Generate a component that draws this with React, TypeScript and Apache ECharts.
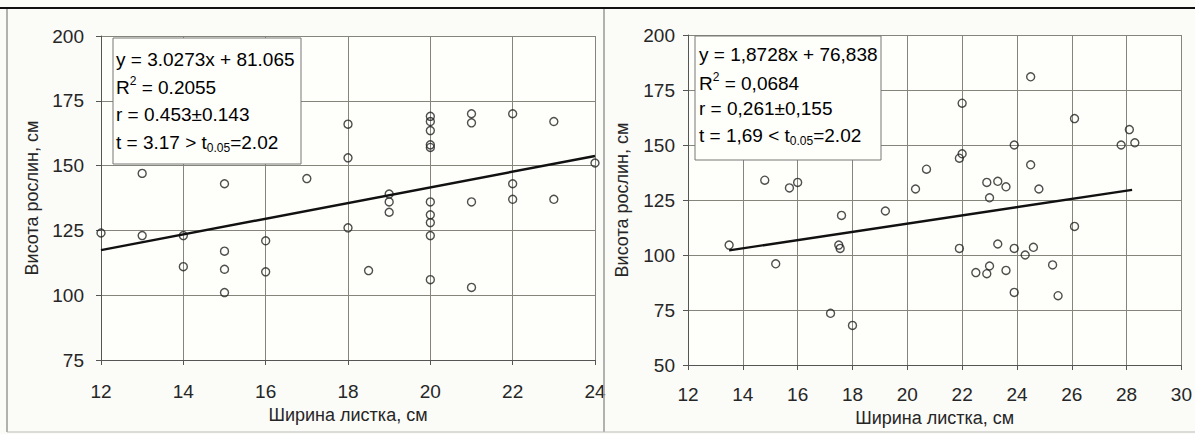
import React, { useEffect, useRef } from "react";
import * as echarts from "echarts";

// Left chart: leaf width (cm) vs plant height (cm)
const leftWidth = [12, 13, 13, 14, 14, 15, 15, 15, 15, 16, 16, 17, 18, 18, 18, 18.5, 19, 19, 19, 20, 20, 20, 20, 20, 20, 20, 20, 20, 20, 21, 21, 21, 21, 22, 22, 22, 23, 23, 24];
const leftHeight = [124, 147, 123, 123, 111, 143, 117, 110, 101, 121, 109, 145, 166, 153, 126, 109.5, 139, 136, 132, 169, 167, 163.5, 158, 157, 136, 131, 128, 123, 106, 170, 166.5, 136, 103, 170, 143, 137, 167, 137, 151];
const leftTrend = [[12, 117.4], [24, 153.7]];
const leftLegend = ["y = 3.0273x + 81.065", "R2 = 0.2055", "r = 0.453±0.143", "t = 3.17 > t0.05=2.02"];

// Right chart
const rightWidth = [13.5, 14.8, 15.2, 15.7, 16.0, 17.2, 17.6, 17.5, 17.55, 18.0, 19.2, 20.3, 20.7, 22.0, 21.9, 22.0, 21.9, 22.5, 22.9, 23.0, 22.9, 23.0, 23.3, 23.3, 23.6, 23.6, 23.9, 23.9, 23.9, 24.3, 24.5, 24.5, 24.6, 24.8, 25.3, 25.5, 26.1, 26.1, 27.8, 28.1, 28.3];
const rightHeight = [104.5, 134, 96, 130.5, 133, 73.5, 118, 104.5, 103, 68, 120, 130, 139, 169, 144, 146, 103, 92, 133, 126, 91.5, 95, 133.5, 105, 131, 93, 83, 103, 150, 100, 141, 181, 103.5, 130, 95.5, 81.5, 162, 113, 150, 157, 151];
const rightTrend = [[13.5, 102.1], [28.2, 129.6]];
const rightLegend = ["y = 1,8728x + 76,838", "R2 = 0,0684", "r = 0,261±0,155", "t = 1,69 < t0.05=2.02"];

const xTicksLeft = [12, 24, 2];
const yTicksLeft = [75, 200, 25];
const xTicksRight = [12, 30, 2];
const yTicksRight = [50, 200, 25];

const xTitle = "Ширина листка, см";
const yTitle = "Висота рослин, см";

const FONT = "Liberation Sans, Arial, sans-serif";

function pairs(xs: number[], ys: number[]) {
  return xs.map((x, i) => [x, ys[i]]);
}

export default function App() {
  const ref = useRef<HTMLDivElement>(null);
  useEffect(() => {
    if (!ref.current) return;
    const chart = echarts.init(ref.current, null, { renderer: "svg" });
    const gridLine = { show: true, lineStyle: { color: "#85857c", width: 1 } };
    const axisLine = { show: true, lineStyle: { color: "#555", width: 1 } };
    const tick = { show: true, length: 5, inside: false, lineStyle: { color: "#555" } };
    const labelStyle = { color: "#262626", fontSize: 19, fontFamily: FONT };
    const nameStyle = { color: "#262626", fontSize: 18, fontFamily: FONT };

    const mkX = (idx: number, t: number[], margin: number) => ({
      type: "value",
      gridIndex: idx,
      min: t[0],
      max: t[1],
      interval: t[2],
      axisLine,
      axisTick: tick,
      splitLine: gridLine,
      axisLabel: { ...labelStyle, margin },
      name: xTitle,
      nameLocation: "middle",
      nameGap: 44,
      nameTextStyle: nameStyle,
    });
    const mkY = (idx: number, t: number[], margin: number, gap: number) => ({
      type: "value",
      gridIndex: idx,
      min: t[0],
      max: t[1],
      interval: t[2],
      axisLine,
      axisTick: tick,
      splitLine: gridLine,
      axisLabel: { ...labelStyle, margin },
      name: yTitle,
      nameLocation: "middle",
      nameGap: gap,
      nameTextStyle: nameStyle,
    });

    const scatterStyle = {
      type: "scatter",
      symbol: "circle",
      symbolSize: 8,
      itemStyle: { color: "rgba(255,255,255,0)", borderColor: "#222", borderWidth: 1.4 },
      z: 3,
    };
    const lineStyleSeries = {
      type: "line",
      showSymbol: false,
      symbol: "none",
      lineStyle: { color: "#111", width: 2.4 },
      z: 4,
    };

    const rich = {
      n: { fontSize: 19, fontFamily: FONT, color: "#1e1e1e", lineHeight: 24 },
      sup: { fontSize: 12, fontFamily: FONT, color: "#1e1e1e", verticalAlign: "top", lineHeight: 24 },
      sub: { fontSize: 12, fontFamily: FONT, color: "#1e1e1e", verticalAlign: "bottom", lineHeight: 18 },
    };
    const legendTexts = (x: number, ys: number[], lines: string[]) => {
      const [eq, r2, r, t] = lines;
      const r2rest = r2.slice(2);
      const tIdx = t.indexOf("t0.05");
      const tHead = t.slice(0, tIdx + 1);
      const tTail = t.slice(tIdx + 5);
      const texts = [
        `{n|${eq}}`,
        `{n|R}{sup|2}{n|${r2rest}}`,
        `{n|${r}}`,
        `{n|${tHead}}{sub|0.05}{n|${tTail}}`,
      ];
      return texts.map((s, i) => ({
        type: "text",
        x,
        y: ys[i],
        z: 10,
        style: { text: s, rich, verticalAlign: "middle", align: "left" },
      }));
    };

    chart.setOption({
      animation: false,
      backgroundColor: "#fbfbf8",
      grid: [
        { left: 101, top: 36, width: 494, height: 324, containLabel: false, show: true, backgroundColor: "#fefefb", borderWidth: 0 },
        { left: 688, top: 35, width: 497, height: 330, containLabel: false, show: true, backgroundColor: "#fefefb", borderWidth: 0 },
      ],
      xAxis: [mkX(0, xTicksLeft, 22), mkX(1, xTicksRight, 20)],
      yAxis: [mkY(0, yTicksLeft, 17, 60), mkY(1, yTicksRight, 13, 57)],
      series: [
        { ...scatterStyle, xAxisIndex: 0, yAxisIndex: 0, data: pairs(leftWidth, leftHeight) },
        { ...lineStyleSeries, xAxisIndex: 0, yAxisIndex: 0, data: leftTrend },
        { ...scatterStyle, xAxisIndex: 1, yAxisIndex: 1, data: pairs(rightWidth, rightHeight) },
        { ...lineStyleSeries, xAxisIndex: 1, yAxisIndex: 1, data: rightTrend },
      ],
      graphic: [
        { type: "line", shape: { x1: 0, y1: 8, x2: 1195, y2: 8 }, style: { stroke: "#111", lineWidth: 2 }, z: 20 },
        { type: "line", shape: { x1: 7, y1: 9, x2: 7, y2: 432 }, style: { stroke: "#999", lineWidth: 1.5 }, z: 20 },
        { type: "line", shape: { x1: 604, y1: 9, x2: 604, y2: 432 }, style: { stroke: "#999", lineWidth: 1.5 }, z: 20 },
        { type: "line", shape: { x1: 7, y1: 432, x2: 1195, y2: 432 }, style: { stroke: "#bbb", lineWidth: 1 }, z: 20 },
        { type: "rect", shape: { x: 113, y: 38, width: 188, height: 126 }, style: { fill: "#fefefb", stroke: "#777", lineWidth: 1 }, z: 9 },
        { type: "rect", shape: { x: 695, y: 36, width: 186, height: 124 }, style: { fill: "#fefefb", stroke: "#777", lineWidth: 1 }, z: 9 },
        ...legendTexts(116, [59, 87, 114, 142], leftLegend),
        ...legendTexts(699, [54, 83, 108, 135], rightLegend),
      ],
    });
    return () => chart.dispose();
  }, []);
  return <div ref={ref} style={{ position: "fixed", left: 0, top: 0, width: 1195, height: 434 }} />;
}
